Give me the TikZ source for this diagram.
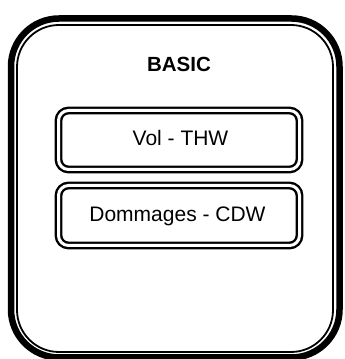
\documentclass[tikz,border=0pt]{standalone}
\usepackage{fontspec}
\setmainfont{Liberation Sans}
\begin{document}
\begin{tikzpicture}[line join=round,
  panelouter/.style={draw=black,rectangle,rounded corners=48bp,line width=6.5bp,inner sep=0pt},
  panelinner/.style={draw=black,rectangle,rounded corners=42bp,line width=1.8bp,inner sep=0pt},
  optbox/.style={draw=black,rectangle,rounded corners=10bp,double=white,double distance=3bp,line width=2.4bp,inner sep=0pt,minimum width=241bp},
  lbl/.style={anchor=base,font=\fontsize{21bp}{25bp}\selectfont},
]
\useasboundingbox (0bp,0bp) rectangle (345bp,359bp);
%%
\node (panel_out) at (175.25bp,171bp) [panelouter,minimum width=328.5bp,minimum height=339bp] {};
  \node (panel_in) at (175bp,170.5bp) [panelinner,minimum width=316bp,minimum height=327bp] {};
  \node (title) at (179bp,287bp) [lbl,font=\fontsize{20.5bp}{25bp}\selectfont\bfseries] {BASIC};
  \node (opt_thw) at (179bp,219bp) [optbox,minimum height=59bp] {};
  \node (opt_cdw) at (179bp,143.5bp) [optbox,minimum height=60bp] {};
  \node (lbl_thw) at (180.5bp,213bp) [lbl] {Vol - THW};
  \node (lbl_cdw) at (177.5bp,137.5bp) [lbl] {Dommages - CDW};
%
\end{tikzpicture}
\end{document}
